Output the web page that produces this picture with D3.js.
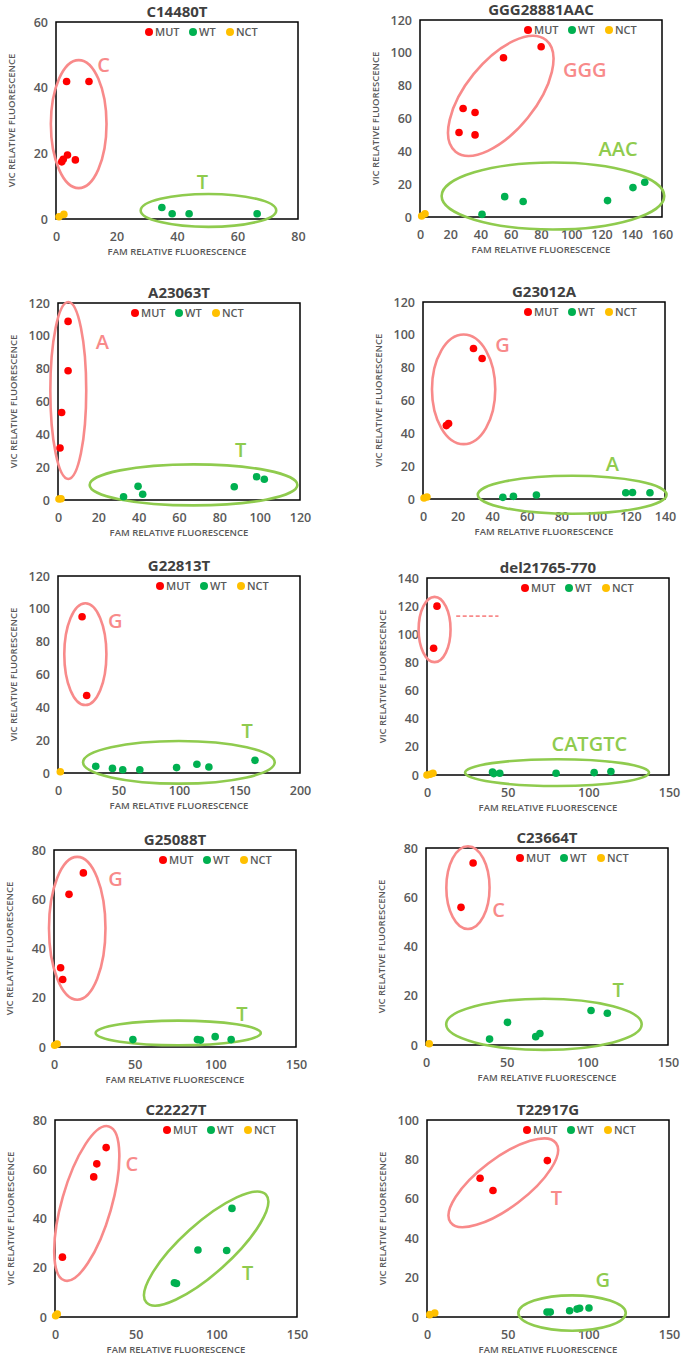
<!DOCTYPE html>
<html>
<head>
<meta charset="utf-8">
<script src="https://cdn.jsdelivr.net/npm/d3@7"></script>
<style>
  body { margin: 0; background: #fff; }
  svg text { font-family: "Open Sans", "DejaVu Sans", sans-serif; }
</style>
</head>
<body>
<div id="app"></div>
<script>
// ---- data ----
const titles = ["C14480T", "GGG28881AAC", "A23063T", "G23012A", "G22813T",
  "del21765-770", "G25088T", "C23664T", "C22227T", "T22917G"]

const xTicks = [
  [0, 20, 40, 60, 80],
  [0, 20, 40, 60, 80, 100, 120, 140, 160],
  [0, 20, 40, 60, 80, 100, 120],
  [0, 20, 40, 60, 80, 100, 120, 140],
  [0, 50, 100, 150, 200],
  [0, 50, 100, 150],
  [0, 50, 100, 150],
  [0, 50, 100, 150],
  [0, 50, 100, 150],
  [0, 50, 100, 150],
]
const yTicks = [
  [0, 20, 40, 60],
  [0, 20, 40, 60, 80, 100, 120],
  [0, 20, 40, 60, 80, 100, 120],
  [0, 20, 40, 60, 80, 100, 120],
  [0, 20, 40, 60, 80, 100, 120],
  [0, 20, 40, 60, 80, 100, 120, 140],
  [0, 20, 40, 60, 80],
  [0, 20, 40, 60, 80],
  [0, 20, 40, 60, 80],
  [0, 20, 40, 60, 80, 100],
]

const mutPoints = [
  [[3.5, 41.9], [10.9, 41.9], [1.9, 17.4], [2.4, 18.2], [3.8, 19.5], [6.4, 18]],
  [[55.2, 97], [80.1, 103.7], [28.5, 66.1], [36.4, 63.7], [25.8, 51.5], [36.4, 50]],
  [[5, 108.8], [5, 78.7], [1.8, 53.3], [1, 31.7]],
  [[29.2, 91.7], [34.2, 85.6], [13.5, 44.7], [14.8, 46]],
  [[19.9, 95.2], [23.7, 47.2]],
  [[6.2, 120], [4.1, 90.1]],
  [[18.2, 70.7], [9.3, 62], [4.1, 32.2], [5.4, 27.4]],
  [[29.2, 73.9], [21.7, 55.9]],
  [[31.7, 68.8], [25.9, 62.2], [24, 56.9], [4.6, 24.3]],
  [[32.9, 70.4], [40.9, 64.2], [74.6, 79.4]],
]
const wtPoints = [
  [[35, 3.5], [38.4, 1.6], [44, 1.6], [66.5, 1.6]],
  [[41, 1.6], [56, 12.4], [68.2, 9.4], [124, 10], [140.8, 17.9], [148.6, 21.2]],
  [[32.5, 2], [39.7, 8.3], [42, 3.5], [87.4, 8.1], [98.5, 14.2], [102.3, 12.6]],
  [[46.2, 1], [52.3, 1.6], [65.6, 2.4], [117.3, 3.8], [121.2, 4], [131.3, 3.8]],
  [[31.2, 4.1], [45, 2.8], [53.5, 2], [67.6, 2], [98, 3.3], [114.8, 5.3], [124.7, 3.7], [162.8, 7.7]],
  [[40.6, 2.1], [41.4, 1], [45.1, 1.2], [80, 1.2], [103.6, 1.7], [114, 2.4]],
  [[48.9, 3], [88.9, 3], [90.8, 2.8], [99.9, 4.2], [109.8, 3]],
  [[39.4, 2.4], [50.5, 9.2], [68, 3.4], [70.6, 4.7], [102.3, 14], [112.4, 12.9]],
  [[109.7, 44.1], [88.6, 27.2], [106.4, 27], [74, 13.9], [75.3, 13.6]],
  [[74.4, 2.5], [76.4, 2.5], [88.4, 3.2], [93, 4], [94.6, 4.4], [100.4, 4.6]],
]
const nctPoints = [
  [[1, 0.7], [2.6, 1.4]],
  [[1.1, 0.6], [3.3, 2]],
  [[0.5, 0.6], [1.5, 0.8]],
  [[0.6, 0.6], [2.3, 1.2]],
  [[1.9, 0.8]],
  [[0, 0], [2, 0.5], [3.7, 1.2]],
  [[0.4, 0.7], [1.9, 1.2]],
  [[2, 0.5]],
  [[0.4, 0.5], [1.4, 1.2]],
  [[1.7, 1.2], [4.8, 2]],
]

// cluster ellipses: centre and radii in data units, tilt in degrees
const mutEllipses = [
  [7.5, 28.9, 9.2, 19.5, 0],
  [53.4, 73.8, 47.5, 21.2, -51],
  [5.1, 66.7, 8.9, 53.9, 0],
  [23.5, 66.8, 18.3, 33.4, 0],
  [22.6, 72.4, 17.4, 31, 0],
  [4.7, 103.4, 9.9, 23.2, 0],
  [14.4, 48.2, 17.5, 29, 0],
  [26, 63.9, 13.4, 16.8, 0],
  [19.7, 46.1, 49.7, 10.1, -74],
  [47.3, 68.1, 40.9, 12.5, -37],
]
const wtEllipses = [
  [50.4, 2.6, 22.4, 5, 0],
  [87.9, 12.8, 73.6, 20.4, 0],
  [67.2, 9.2, 51.5, 12.5, 0],
  [86.3, 2.6, 54.6, 11.6, 0],
  [99.9, 6.5, 79.2, 13, 0],
  [80.6, 1.7, 57, 9.5, 0],
  [77, 5.7, 51.2, 5, 0],
  [73.1, 8.4, 60.6, 10.4, 0],
  [93.7, 27.8, 49.9, 10.1, -42],
  [89.9, 2, 33.3, 9, 0],
]

// allele labels: [text, x, y]
const mutLabels = [
  ["C", 15.7, 47], ["GGG", 109, 89.4], ["A", 22, 96.6], ["G", 46, 93.7], ["G", 47.4, 92.5],
  null, ["G", 38.2, 68.2], ["C", 45, 54.9], ["C", 47.6, 62.4], ["T", 80.2, 60.3],
]
const wtLabels = [
  ["T", 48.4, 11.4], ["AAC", 131, 41.7], ["T", 90.6, 30.5], ["A", 109.6, 21.5], ["T", 156.4, 26],
  ["CATGTC", 100.6, 21.9], ["T", 116.4, 13.5], ["T", 119.1, 22.4], ["T", 119.4, 17.8], ["G", 109, 18.9],
]
// deletion marker in del21765-770 panel: [x1, x2, y]
const deletionDash = [18.1, 44.3, 112.9]

const legendNames = ["MUT", "WT", "NCT"]

// ---- layout ----
const colors = { MUT: "#FF0000", WT: "#00B050", NCT: "#FFC000" }
const pink = "#F88A8A"
const lightGreen = "#8FCB4E"
const textGrey = "#595959"

const plotW = 242
const plotH = 197
const frames = [
  { left: 56, top: 22, legend: 93 },
  { left: 420, top: 20, legend: 108 },
  { left: 58, top: 303, legend: 77 },
  { left: 423, top: 302, legend: 105 },
  { left: 58, top: 576, legend: 102 },
  { left: 427, top: 578, legend: 98 },
  { left: 54, top: 850, legend: 109 },
  { left: 426, top: 848, legend: 94 },
  { left: 55, top: 1120, legend: 112 },
  { left: 427, top: 1120, legend: 100 },
]

const svg = d3.select("#app")
  .append("svg")
    .attr("width", 683)
    .attr("height", 1361)

titles.forEach((title, i) => {
  const f = frames[i]
  const xs = xTicks[i], ys = yTicks[i]

  const xScale = d3.scaleLinear()
    .domain([0, xs[xs.length - 1]])
    .range([0, plotW])
  const yScale = d3.scaleLinear()
    .domain([0, ys[ys.length - 1]])
    .range([plotH, 0])

  const g = svg.append("g")
    .attr("transform", `translate(${f.left},${f.top})`)

  // title
  g.append("text")
    .attr("x", plotW / 2)
    .attr("y", -5)
    .attr("text-anchor", "middle")
    .attr("fill", "#404040")
    .style("font-size", "15px")
    .style("font-weight", 700)
    .text(title)

  // axes (labels only, no tick marks)
  const xAxis = g.append("g")
    .attr("transform", `translate(0,${plotH})`)
    .call(d3.axisBottom(xScale).tickValues(xs).tickSize(0).tickPadding(13))
  const yAxis = g.append("g")
    .call(d3.axisLeft(yScale).tickValues(ys).tickSize(0).tickPadding(8))
  ;[xAxis, yAxis].forEach(ax => {
    ax.select(".domain").remove()
    ax.selectAll("text")
      .attr("fill", textGrey)
      .style("font-size", "12.5px")
      .style("font-weight", 600)
      .style("font-family", "'Open Sans', sans-serif")
  })

  g.append("text")
    .attr("x", plotW / 2)
    .attr("y", plotH + 36)
    .attr("text-anchor", "middle")
    .attr("fill", textGrey)
    .style("font-size", "9.5px")
    .style("font-weight", 600)
    .text("FAM RELATIVE FLUORESCENCE")

  g.append("text")
    .attr("transform", `translate(-41,${plotH / 2}) rotate(-90)`)
    .attr("text-anchor", "middle")
    .attr("fill", textGrey)
    .style("font-size", "9.5px")
    .style("font-weight", 600)
    .text("VIC RELATIVE FLUORESCENCE")

  // frame
  g.append("rect")
    .attr("width", plotW)
    .attr("height", plotH)
    .attr("fill", "none")
    .attr("stroke", "#000")
    .attr("stroke-width", 1.5)

  // cluster ellipses
  const drawEllipse = (e, color) => {
    const [cx, cy, rx, ry, rot] = e
    g.append("ellipse")
      .attr("transform", `translate(${xScale(cx)},${yScale(cy)}) rotate(${rot})`)
      .attr("rx", xScale(rx) - xScale(0))
      .attr("ry", yScale(0) - yScale(ry))
      .attr("fill", "none")
      .attr("stroke", color)
      .attr("stroke-width", 2.6)
  }
  drawEllipse(mutEllipses[i], pink)
  drawEllipse(wtEllipses[i], lightGreen)

  // points
  const series = [
    ["NCT", nctPoints[i]],
    ["WT", wtPoints[i]],
    ["MUT", mutPoints[i]],
  ]
  series.forEach(([name, pts]) => {
    g.append("g")
      .selectAll("circle")
      .data(pts)
      .join("circle")
        .attr("cx", d => xScale(d[0]))
        .attr("cy", d => yScale(d[1]))
        .attr("r", 3.8)
        .attr("fill", colors[name])
  })

  // allele labels
  const drawLabel = (lab, color) => {
    if (!lab) return
    g.append("text")
      .attr("x", xScale(lab[1]))
      .attr("y", yScale(lab[2]))
      .attr("dy", "0.36em")
      .attr("text-anchor", "middle")
      .attr("fill", color)
      .style("font-size", "20px")
      .style("font-weight", 600)
      .text(lab[0])
  }
  drawLabel(mutLabels[i], pink)
  drawLabel(wtLabels[i], lightGreen)

  if (title === "del21765-770") {
    g.append("line")
      .attr("x1", xScale(deletionDash[0]))
      .attr("x2", xScale(deletionDash[1]))
      .attr("y1", yScale(deletionDash[2]))
      .attr("y2", yScale(deletionDash[2]))
      .attr("stroke", pink)
      .attr("stroke-width", 1.6)
      .attr("stroke-dasharray", "4 2.5")
  }

  // legend
  const legendOffsets = [0, 44, 81]
  const legend = g.append("g")
    .attr("transform", `translate(${f.legend},10)`)
  legendNames.forEach((name, k) => {
    const item = legend.append("g")
      .attr("transform", `translate(${legendOffsets[k]},0)`)
    item.append("circle")
      .attr("r", 4)
      .attr("fill", colors[name])
    item.append("text")
      .attr("x", 6)
      .attr("dy", "0.36em")
      .attr("fill", textGrey)
      .style("font-size", "11px")
      .style("font-weight", 600)
      .text(name)
  })
})
</script>
</body>
</html>
